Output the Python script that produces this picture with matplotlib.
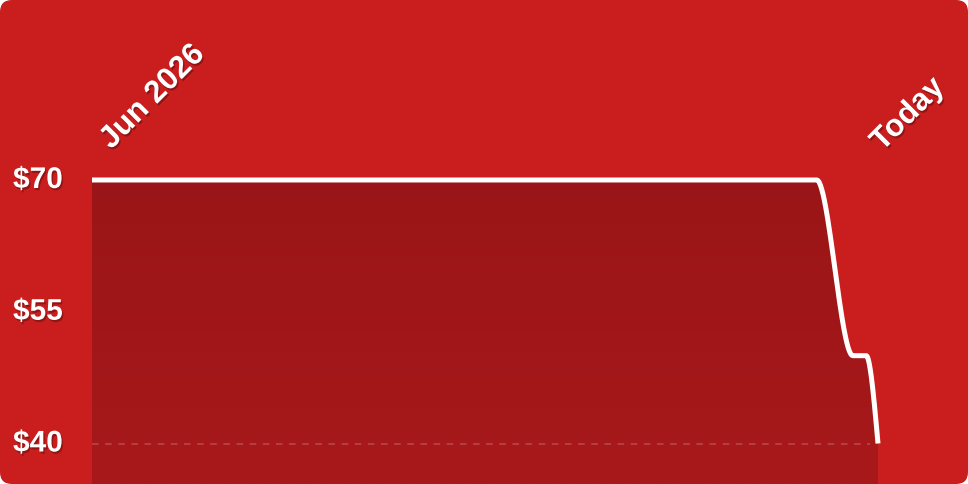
import numpy as np
import matplotlib
matplotlib.use("Agg")
import matplotlib.pyplot as plt
import matplotlib.patheffects as pe
from matplotlib.patches import FancyBboxPatch, Polygon

# data: position along the period (0 = Jun 2026, 100 = today) and price
x_pos = [0.0, 92.2, 96.8, 98.5, 100.0]
prices = [70, 70, 50, 50, 40]
y_ticks = [70, 55, 40]
y_labels = ["$70", "$55", "$40"]
x_labels = ["Jun 2026", "Today"]

BG = "#C91D1E"
FILL_TOP = "#9A1517"
FILL_BOTTOM = "#A8191B"


def monotone_curve(xs, ys, n=60):
    # d3-style monotone X interpolation, used only to draw the line smoothly
    xs = np.asarray(xs, float)
    ys = np.asarray(ys, float)
    h = np.diff(xs)
    s = np.diff(ys) / h
    m = np.zeros(len(xs))
    for i in range(1, len(xs) - 1):
        p = (s[i - 1] * h[i] + s[i] * h[i - 1]) / (h[i - 1] + h[i])
        m[i] = (np.sign(s[i - 1]) + np.sign(s[i])) * min(abs(s[i - 1]), abs(s[i]), 0.5 * abs(p))
    m[0] = (3 * s[0] - m[1]) / 2
    m[-1] = (3 * s[-1] - m[-2]) / 2
    px, py = [], []
    for i in range(len(xs) - 1):
        t = np.linspace(0, 1, n)
        h00 = 2 * t**3 - 3 * t**2 + 1
        h10 = t**3 - 2 * t**2 + t
        h01 = -2 * t**3 + 3 * t**2
        h11 = t**3 - t**2
        px.extend(xs[i] + t * h[i])
        py.extend(h00 * ys[i] + h10 * h[i] * m[i] + h01 * ys[i + 1] + h11 * h[i] * m[i + 1])
    return np.array(px), np.array(py)


fig = plt.figure(figsize=(9.68, 4.84), dpi=100, facecolor="white")

# rounded card background
bg = fig.add_axes([0, 0, 1, 1])
bg.set_xlim(0, 968)
bg.set_ylim(0, 484)
bg.axis("off")
bg.add_patch(FancyBboxPatch((0, 0), 968, 484, boxstyle="round,pad=0,rounding_size=12",
                            facecolor=BG, edgecolor="none"))

ax = fig.add_axes([92 / 968, 0, (878 - 92) / 968, 1])
ax.patch.set_alpha(0)
ax.set_xlim(0, 100)
ymin, ymax = 35.39, 90.49
ax.set_ylim(ymin, ymax)
ax.axis("off")

cx, cy = monotone_curve(x_pos, prices)

# gradient fill under the line
verts = np.column_stack([np.r_[cx, cx[-1], cx[0]], np.r_[cy, ymin, ymin]])
poly = Polygon(verts, closed=True, facecolor="none", edgecolor="none")
ax.add_patch(poly)
c_top = np.array(matplotlib.colors.to_rgb(FILL_TOP))
c_bot = np.array(matplotlib.colors.to_rgb(FILL_BOTTOM))
g = np.linspace(0, 1, 256)[:, None]
grad = (c_top * (1 - g) + c_bot * g)[:, None, :]
im = ax.imshow(grad, extent=[0, 100, ymin, max(prices)], origin="upper",
               aspect="auto", zorder=1, interpolation="bilinear")
im.set_clip_path(poly)

ax.axhline(40, xmin=0, xmax=0.99, color="white", alpha=0.22, lw=1.1,
           dashes=(4.3, 4.3), zorder=2)

ax.plot(cx, cy, color="white", lw=3.6, solid_capstyle="butt",
        solid_joinstyle="round", zorder=3, clip_on=False)

shadow = [pe.withSimplePatchShadow(offset=(1, -1.5), shadow_rgbFace="black", alpha=0.28)]
font = dict(family="Liberation Sans", fontweight="bold", color="white")

for val, lab in zip(y_ticks, y_labels):
    ax.annotate(lab, xy=(13 / 968, val), xycoords=("figure fraction", "data"),
                ha="left", va="center", fontsize=21.5, path_effects=shadow, **font)

ax.annotate(x_labels[0], xy=(0, 70), xycoords="data", xytext=(19, 30),
            textcoords="offset pixels", rotation=45, rotation_mode="anchor",
            ha="left", va="baseline", fontsize=22.5, path_effects=shadow,
            annotation_clip=False, **font)
ax.annotate(x_labels[1], xy=(100, 70), xycoords="data", xytext=(4, 28),
            textcoords="offset pixels", rotation=45, rotation_mode="anchor",
            ha="left", va="baseline", fontsize=22.5, path_effects=shadow,
            annotation_clip=False, **font)

fig.savefig("out.png", dpi=100, facecolor="white")
